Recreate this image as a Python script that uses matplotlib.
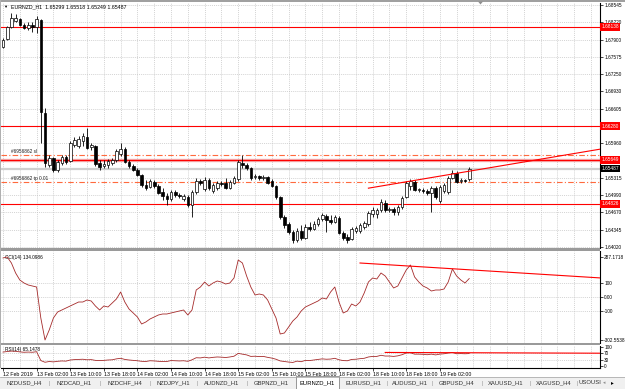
import matplotlib.pyplot as plt
from matplotlib.patches import Rectangle, Polygon
from matplotlib.lines import Line2D

plt.rcParams['font.family'] = ['Liberation Sans', 'DejaVu Sans']

symbol = "EURNZD_H1"
last_ohlc = "1.65299 1.65518 1.65249 1.65487"

# hourly candles, 12 Feb 18:00 .. 19 Feb 09:00
opens = [
    1.6776, 1.6791, 1.6813, 1.6825, 1.6828, 1.6817, 1.6812, 1.6817, 1.6813, 1.6827,
    1.6653, 1.6555, 1.6568, 1.6546, 1.6559, 1.6570, 1.6563, 1.6593, 1.6591, 1.6600,
    1.6608, 1.6589, 1.6591, 1.6559, 1.6554, 1.6555, 1.6559, 1.6565, 1.6576, 1.6585,
    1.6561, 1.6554, 1.6546, 1.6537, 1.6518, 1.6514, 1.6524, 1.6516, 1.6505, 1.6497,
    1.6492, 1.6505, 1.6499, 1.6492, 1.6496, 1.6481, 1.6505, 1.6525, 1.6510, 1.6527,
    1.6507, 1.6512, 1.6522, 1.6522, 1.6512, 1.6522, 1.6529, 1.6559, 1.6555, 1.6550,
    1.6533, 1.6535, 1.6531, 1.6533, 1.6525, 1.6516, 1.6496, 1.6458, 1.6445, 1.6430,
    1.6415, 1.6432, 1.6419, 1.6439, 1.6436, 1.6445, 1.6454, 1.6460, 1.6453, 1.6449,
    1.6456, 1.6428, 1.6421, 1.6417, 1.6432, 1.6432, 1.6439, 1.6445, 1.6464, 1.6464,
    1.6471, 1.6484, 1.6471, 1.6473, 1.6467, 1.6477, 1.6496, 1.6516, 1.6524, 1.6509,
    1.6509, 1.6507, 1.6503, 1.6512, 1.6488, 1.6507, 1.6505, 1.6531, 1.6540, 1.6525,
    1.6527, 1.65299]
highs = [
    1.6793, 1.6815, 1.6840, 1.6838, 1.6830, 1.6821, 1.6823, 1.6823, 1.6834, 1.6828,
    1.6662, 1.6574, 1.6570, 1.6565, 1.6574, 1.6574, 1.6600, 1.6608, 1.6610, 1.6615,
    1.6625, 1.6597, 1.6593, 1.6565, 1.6565, 1.6567, 1.6568, 1.6585, 1.6597, 1.6589,
    1.6565, 1.6557, 1.6550, 1.6539, 1.6527, 1.6529, 1.6527, 1.6520, 1.6512, 1.6503,
    1.6509, 1.6509, 1.6503, 1.6501, 1.6499, 1.6509, 1.6531, 1.6529, 1.6533, 1.6531,
    1.6522, 1.6525, 1.6525, 1.6531, 1.6527, 1.6535, 1.6565, 1.6574, 1.6559, 1.6552,
    1.6539, 1.6537, 1.6537, 1.6535, 1.6529, 1.6518, 1.6497, 1.6462, 1.6449, 1.6434,
    1.6438, 1.6443, 1.6445, 1.6449, 1.6451, 1.6458, 1.6466, 1.6464, 1.6462, 1.6462,
    1.6460, 1.6432, 1.6426, 1.6439, 1.6441, 1.6447, 1.6451, 1.6469, 1.6477, 1.6475,
    1.6492, 1.6490, 1.6477, 1.6477, 1.6481, 1.6497, 1.6525, 1.6529, 1.6527, 1.6512,
    1.6512, 1.6510, 1.6516, 1.6516, 1.6518, 1.6522, 1.6535, 1.6546, 1.6544, 1.6531,
    1.6529, 1.65518]
lows = [
    1.6774, 1.6789, 1.6812, 1.6823, 1.6815, 1.6810, 1.6808, 1.6804, 1.6802, 1.6597,
    1.6552, 1.6552, 1.6542, 1.6542, 1.6555, 1.6557, 1.6561, 1.6589, 1.6587, 1.6591,
    1.6585, 1.6583, 1.6554, 1.6546, 1.6550, 1.6550, 1.6555, 1.6561, 1.6572, 1.6559,
    1.6550, 1.6544, 1.6535, 1.6514, 1.6509, 1.6512, 1.6512, 1.6501, 1.6490, 1.6481,
    1.6488, 1.6496, 1.6494, 1.6488, 1.6477, 1.6458, 1.6501, 1.6518, 1.6507, 1.6509,
    1.6503, 1.6509, 1.6516, 1.6510, 1.6510, 1.6520, 1.6525, 1.6550, 1.6546, 1.6527,
    1.6529, 1.6527, 1.6527, 1.6520, 1.6514, 1.6492, 1.6454, 1.6438, 1.6426, 1.6410,
    1.6411, 1.6415, 1.6417, 1.6432, 1.6434, 1.6441, 1.6451, 1.6430, 1.6445, 1.6447,
    1.6426, 1.6415, 1.6410, 1.6415, 1.6428, 1.6428, 1.6436, 1.6441, 1.6458, 1.6456,
    1.6467, 1.6467, 1.6467, 1.6462, 1.6462, 1.6473, 1.6494, 1.6509, 1.6507, 1.6505,
    1.6503, 1.6499, 1.6467, 1.6492, 1.6484, 1.6503, 1.6501, 1.6529, 1.6522, 1.6522,
    1.6524, 1.65249]
closes = [
    1.6789, 1.6813, 1.6830, 1.6830, 1.6817, 1.6812, 1.6817, 1.6813, 1.6828, 1.6654,
    1.6559, 1.6568, 1.6546, 1.6561, 1.6570, 1.6561, 1.6597, 1.6602, 1.6604, 1.6610,
    1.6587, 1.6593, 1.6557, 1.6552, 1.6557, 1.6563, 1.6565, 1.6582, 1.6585, 1.6561,
    1.6554, 1.6546, 1.6537, 1.6518, 1.6512, 1.6525, 1.6516, 1.6503, 1.6497, 1.6492,
    1.6505, 1.6499, 1.6497, 1.6497, 1.6481, 1.6505, 1.6525, 1.6522, 1.6527, 1.6512,
    1.6518, 1.6522, 1.6520, 1.6512, 1.6524, 1.6531, 1.6561, 1.6555, 1.6550, 1.6531,
    1.6535, 1.6531, 1.6533, 1.6522, 1.6516, 1.6496, 1.6458, 1.6443, 1.6430, 1.6415,
    1.6432, 1.6419, 1.6439, 1.6436, 1.6445, 1.6454, 1.6462, 1.6453, 1.6449, 1.6458,
    1.6428, 1.6419, 1.6415, 1.6436, 1.6438, 1.6443, 1.6447, 1.6466, 1.6471, 1.6471,
    1.6486, 1.6471, 1.6473, 1.6467, 1.6477, 1.6494, 1.6522, 1.6525, 1.6509, 1.6510,
    1.6507, 1.6503, 1.6512, 1.6496, 1.6514, 1.6518, 1.6531, 1.6540, 1.6524, 1.6527,
    1.6525, 1.65487]

cci = [
    280.1, 287.1718, 244.5, 173.5, 123.8, 102.4, 88.2, 81.1, 74.0, -146.2,
    -302.5538, -231.5, -146.2, -103.6, -89.4, -75.2, -61.0, -46.8, -32.6, -32.6,
    -18.3, -25.5, -61.0, -89.4, -61.0, -68.1, -39.7, -11.2, 38.5, -32.6,
    -82.3, -110.7, -139.1, -188.9, -174.7, -153.3, -139.1, -124.9, -117.8, -117.8,
    -110.7, -103.6, -96.5, -89.4, -124.9, -89.4, 52.7, 74.0, 109.5, 81.1,
    102.4, 116.6, 109.5, 95.3, 102.4, 138.0, 265.9, 244.5, 152.2, 74.0,
    17.2, 24.3, 17.2, -18.3, -82.3, -146.2, -259.9, -252.8, -210.2, -167.5,
    -139.1, -96.5, -68.1, -53.9, -39.7, -25.5, -4.1, -11.2, 38.5, 74.0,
    -32.6, -110.7, -96.5, -46.8, -61.0, -32.6, 31.4, 109.5, 138.0, 130.9,
    173.5, 152.2, 109.5, 66.9, 81.1, 138.0, 194.8, 230.3, 145.1, 109.5,
    81.1, 66.9, 45.6, 52.7, 52.7, 59.8, 109.5, 201.9, 152.2, 123.8,
    102.4, 134.0986]
rsi = [
    73, 76, 78, 77, 74, 72, 73, 72, 75, 28,
    19, 23, 21, 24, 26, 25, 31, 33, 34, 35,
    32, 33, 29, 28, 29, 31, 32, 37, 40, 34,
    31, 29, 27, 24, 23, 27, 26, 24, 23, 23,
    28, 27, 26, 27, 24, 32, 43, 42, 46, 42,
    45, 47, 46, 44, 47, 51, 66, 62, 58, 50,
    51, 49, 50, 45, 41, 35, 26, 23, 20, 18,
    25, 22, 29, 28, 31, 34, 37, 35, 36, 40,
    32, 28, 27, 34, 35, 38, 40, 47, 50, 50,
    56, 52, 52, 50, 53, 59, 68, 69, 62, 62,
    61, 59, 62, 58, 62, 64, 68, 71, 64, 65,
    64, 65.1478]

time_labels = ["12 Feb 2019", "13 Feb 02:00", "13 Feb 10:00", "13 Feb 18:00",
               "14 Feb 02:00", "14 Feb 10:00", "14 Feb 18:00", "15 Feb 02:00",
               "15 Feb 10:00", "15 Feb 18:00", "18 Feb 02:00", "18 Feb 10:00",
               "18 Feb 18:00", "19 Feb 02:00"]
time_label_bars = [0, 8, 16, 24, 32, 40, 48, 56, 64, 72, 80, 88, 96, 104]

price_ticks = [1.64020, 1.64345, 1.64670, 1.64990, 1.65315, 1.65635, 1.65960,
               1.66280, 1.66605, 1.66930, 1.67250, 1.67575, 1.67900, 1.68220,
               1.68545]
red_levels = [1.68138, 1.66280, 1.65649, 1.64826]
bid = 1.65487
sl_level = 1.6574
tp_level = 1.6524
sl_text = "#6956862 sl"
tp_text = "#6956862 tp 0.01"

price_trend_bars, price_trend_vals = [87, 142.2], [1.6512, 1.6585]
cci_trend_bars, cci_trend_vals = [85, 142.2], [244.5, 138.5]
rsi_trend_bars, rsi_trend_vals = [91, 142.2], [71, 67]

cci_title = "CCI(14) 134.0986"
rsi_title = "RSI(14) 65.1478"
cci_ticks = [287.1718, 100, 0, -100, -302.5538]
cci_tick_labels = ["287.1718", "100", "0.00", "-100", "-302.5538"]
rsi_ticks = [100, 70, 30, 0]

tabs = ["NZDUSD_H4", "NZDCAD_H1", "NZDCHF_H4", "NZDJPY_H1", "AUDNZD_H1",
        "GBPNZD_H1", "EURNZD_H1", "EURUSD_H1", "AUDUSD_H1", "GBPUSD_H4",
        "XAUUSD_H1", "XAGUSD_H4", "USOUSI"]
active_tab = "EURNZD_H1"

# ---------------------------------------------------------------
W, H = 625, 389
FS = 3.4
fig = plt.figure(figsize=(W / 100, H / 100), dpi=100)
fig.patch.set_facecolor('white')


def px_axes(x0, y0, x1, y1):
    return fig.add_axes([x0 / W, 1 - y1 / H, (x1 - x0) / W, (y1 - y0) / H])


def fig_rect(x0, y0, x1, y1, **kw):
    fig.patches.append(Rectangle((x0 / W, 1 - y1 / H), (x1 - x0) / W, (y1 - y0) / H,
                                 transform=fig.transFigure, **kw))


ax = px_axes(1, 3, 600, 248)
ax_cci = px_axes(1, 251, 600, 343)
ax_rsi = px_axes(1, 345.5, 600, 368)

grid_kw = dict(color='#c4c4c4', lw=0.5, linestyle=(0, (1.5, 1.5)), zorder=1)
nbars = len(closes)
for a in (ax, ax_cci, ax_rsi):
    a.set_xlim(-0.48, 142.14)
    for s in ('top', 'left', 'bottom'):
        a.spines[s].set_visible(False)
    a.spines['right'].set_linewidth(0.8)
    a.yaxis.tick_right()
    a.tick_params(axis='y', direction='out', length=2, width=0.5, pad=1.0,
                  labelsize=FS, colors='black')
    a.tick_params(axis='x', bottom=False, labelbottom=False)
    for k in range(0, 143, 4):
        a.axvline(k, **grid_kw)

# ---- main price panel
ax.set_ylim(1.64001, 1.68583)
ax.set_yticks(price_ticks)
# labels that sit under a level box are hidden by it anyway
covered = [p for p in price_ticks
           if min(abs(p - lv) for lv in red_levels + [bid]) < 0.0004]
ax.set_yticklabels(["" if p in covered else f"{p:.5f}" for p in price_ticks])
for p in price_ticks:
    ax.axhline(p, **grid_kw)

for i in range(nbars):
    o, h, l, c = opens[i], highs[i], lows[i], closes[i]
    ax.vlines(i, l, h, color='black', lw=0.6, zorder=4)
    up = c >= o
    ax.bar(i, abs(c - o), bottom=min(o, c), width=0.62,
           facecolor='white' if up else 'black', edgecolor='black',
           linewidth=0.5, zorder=5)

ax.axhline(bid, color='#cfcfcf', lw=1.6, zorder=2)
ax.axhline(red_levels[2], color='#f4a6a6', lw=2.4, zorder=2)
for lv in red_levels:
    ax.axhline(lv, color='#ff0000', lw=0.8, zorder=3)
for lv, txt in ((sl_level, sl_text), (tp_level, tp_text)):
    ax.axhline(lv, color='#ff6a3d', lw=0.8, linestyle=(0, (5, 2, 1, 2)), zorder=3)
    ax.text(2, lv + 0.0002, txt, fontsize=FS, color='#202020', va='bottom',
            ha='left', zorder=6)
ax.plot(price_trend_bars, price_trend_vals, color='#ff0000', lw=0.8, zorder=6,
        clip_on=True)

yt = ax.get_yaxis_transform()
for lv in red_levels:
    ax.text(1.002, lv, f"{lv:.5f}", transform=yt, fontsize=FS, color='white',
            va='center', ha='left', clip_on=False, zorder=10,
            bbox=dict(boxstyle='square,pad=0.3', fc='#ff0000', ec='none'))
ax.text(1.002, bid, f"{bid:.5f}", transform=yt, fontsize=FS, color='white',
        va='center', ha='left', clip_on=False, zorder=10,
        bbox=dict(boxstyle='square,pad=0.3', fc='black', ec='none'))

# ---- CCI panel
ax_cci.set_ylim(-323.9, 329.8)
ax_cci.set_yticks(cci_ticks)
ax_cci.set_yticklabels(cci_tick_labels)
for v in (100, 0, -100):
    ax_cci.axhline(v, **grid_kw)
ax_cci.plot(range(nbars), cci, color='#a52a2a', lw=0.6, zorder=4)
ax_cci.plot(cci_trend_bars, cci_trend_vals, color='#ff0000', lw=0.8, zorder=5)
ax_cci.text(0.007, 0.955, cci_title, transform=ax_cci.transAxes, fontsize=FS,
            va='top', ha='left')

# ---- RSI panel
ax_rsi.set_ylim(-11.4, 107.8)
ax_rsi.set_yticks(rsi_ticks)
ax_rsi.set_yticklabels([str(v) for v in rsi_ticks])
for v in (70, 30):
    ax_rsi.axhline(v, **grid_kw)
ax_rsi.plot(range(nbars), rsi, color='#a52a2a', lw=0.6, zorder=4)
ax_rsi.plot(rsi_trend_bars, rsi_trend_vals, color='#ff0000', lw=0.8, zorder=5)
ax_rsi.text(0.007, 0.93, rsi_title, transform=ax_rsi.transAxes, fontsize=FS,
            va='top', ha='left')
ax_rsi.spines['bottom'].set_visible(True)
ax_rsi.spines['bottom'].set_linewidth(0.8)
ax_rsi.set_xticks(time_label_bars)
ax_rsi.set_xticklabels(time_labels, ha='left')
ax_rsi.tick_params(axis='x', bottom=True, labelbottom=True, length=2, width=0.5,
                   pad=1.0, labelsize=3.8)

# ---- window chrome
fig_rect(0, 0, W, 1.6, fc='#a0a0a0', ec='none')
fig_rect(0, 248.3, 600, 250.8, fc='#9a9a9a', ec='none')
fig_rect(0, 343.0, 600, 345.3, fc='#9a9a9a', ec='none')
fig_rect(0, 0, 1.0, 368, fc='#b0b0b0', ec='none')
fig.patches.append(Polygon([(478 / W, 1 - 1.5 / H), (483 / W, 1 - 1.5 / H),
                            (480.5 / W, 1 - 4.5 / H)], closed=True,
                           transform=fig.transFigure, fc='#909090', ec='none'))
fig.text(3 / W, 1 - 7 / H, "\u25bc", fontsize=3.0, va='center', ha='left')
fig.text(11 / W, 1 - 7 / H, f"{symbol}  {last_ohlc}", fontsize=3.8, va='center',
         ha='left')

# tab strip
fig_rect(0, 376.5, W, H, fc='#f0f0f0', ec='none')
fig.lines.append(Line2D([0, 1], [1 - 376.5 / H] * 2, transform=fig.transFigure,
                        color='#a0a0a0', lw=0.5))
tab_edges = [0, 49, 100, 150, 197, 247, 296, 339, 387, 432, 482, 530, 577, 603]
for k, name in enumerate(tabs):
    x0, x1 = tab_edges[k], tab_edges[k + 1]
    if name == active_tab:
        fig_rect(x0, 376.0, x1, H, fc='white', ec='#707070', lw=0.5)
        col = 'black'
    else:
        col = '#303030'
        if k + 1 < len(tabs) and tabs[k + 1] != active_tab:
            fig.text(x1 / W, 1 - 383 / H, "|", fontsize=3.8, color='#909090',
                     ha='center', va='center')
    fig.text((x0 + x1) / 2 / W, 1 - 383 / H, name, fontsize=4.2, color=col,
             ha='center', va='center', clip_on=True)
fig.text(604 / W, 1 - 383 / H, "\u25c2", fontsize=3.5, color='#909090',
         ha='center', va='center')
fig.text(612 / W, 1 - 383 / H, "\u25b8", fontsize=4.0, color='black',
         ha='center', va='center')

fig.savefig("out.png", dpi=100, facecolor='white')
